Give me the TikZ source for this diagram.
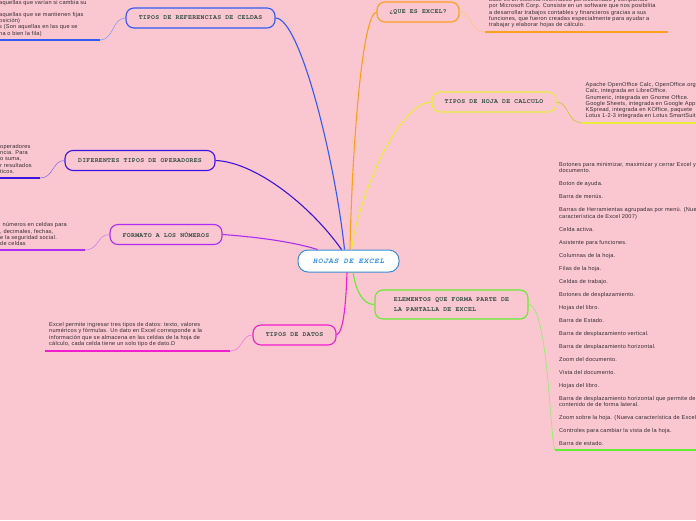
\documentclass[tikz,border=0pt]{standalone}
\usepackage{fontspec}
\setmainfont{Liberation Sans}[LetterSpace=4]
\newfontfamily\lblfont[LetterSpace=4]{texgyrecursor-bold.otf}
\newfontfamily\rootfont[LetterSpace=10]{texgyrecursor-bolditalic.otf}
\usepackage{xcolor}
\usetikzlibrary{calc}
\definecolor{bgpink}{RGB}{250,198,208}
\definecolor{lbltext}{RGB}{45,75,65}
\definecolor{bodytext}{RGB}{50,45,50}
\definecolor{cref}{RGB}{50,90,245}
\definecolor{cop}{RGB}{60,20,225}
\definecolor{cnum}{RGB}{175,45,240}
\definecolor{cdat}{RGB}{240,30,205}
\definecolor{cque}{RGB}{250,160,30}
\definecolor{choja}{RGB}{230,235,60}
\definecolor{celem}{RGB}{100,235,50}
\definecolor{croot}{RGB}{60,140,210}
\definecolor{croottext}{RGB}{40,140,230}
\tikzset{
  topic/.style  ={draw,line width=1.1pt,rounded corners=8pt,minimum height=20pt,inner xsep=10pt,
                  fill=bgpink,text=lbltext,font=\lblfont\fontsize{6.5}{9.7}\selectfont},
  rootbox/.style={draw=croot,line width=1pt,rounded corners=10pt,fill=white,minimum width=101pt,
                  minimum height=22pt,text=croottext,font=\rootfont\fontsize{7.5}{8}\selectfont},
  note/.style   ={inner sep=0pt,anchor=north west,align=left,text=bodytext,
                  font=\fontsize{5.6}{6.2}\selectfont},
  branch/.style ={line width=1.1pt},
  twig/.style   ={line width=0.6pt},
  rule/.style   ={line width=1.6pt},
}
\begin{document}
\begin{tikzpicture}[x=1pt,y=-1pt]
  \fill[bgpink] (0,0) rectangle (696,520);
  \useasboundingbox (0,0) rectangle (696,520);

  \node[rootbox] (root) at (348.5,261) {HOJAS DE EXCEL};
  \node[topic,draw=cref,minimum width=149pt] (refs) at (200.5,18) {TIPOS DE REFERENCIAS DE CELDAS};
  \node[topic,draw=cop,minimum width=150pt] (oper) at (140,160.5) {DIFERENTES TIPOS DE OPERADORES};
  \node[topic,draw=cnum,minimum width=112pt] (nums) at (166,234.5) {FORMATO A LOS NÚMEROS};
  \node[topic,draw=cdat,minimum width=83pt] (datos) at (294.5,335) {TIPOS DE DATOS};
  \node[topic,draw=cque,minimum width=82pt] (que) at (418,12) {¿QUE ES EXCEL?};
  \node[topic,draw=choja,minimum width=124pt] (hoja) at (494,102) {TIPOS DE HOJA DE CALCULO};
  \node[topic,draw=celem,minimum width=153pt,minimum height=29pt,align=left] (elem) at (451.5,304.5)
       {ELEMENTOS QUE FORMA PARTE DE\\LA PANTALLA DE EXCEL};

  \draw[branch,cref] (refs.east) .. controls (300,18) and (335,160) .. ([xshift=-4pt]root.north);
  \draw[branch,cop] (oper.east) .. controls (255,162) and (310,205) .. ([xshift=-7pt]root.north);
  \draw[branch,cnum] (nums.east) .. controls (270,238) and (300,244) .. ([xshift=-31pt]root.north);
  \draw[branch,cque] (que.west) .. controls (362,14) and (352,150) .. ([xshift=1.5pt]root.north);
  \draw[branch,choja] (hoja.west) .. controls (400,102) and (360,190) .. ([xshift=3pt]root.north);
  \draw[branch,cdat] ([xshift=-1.5pt]root.south) .. controls (346,300) and (344,332) .. (datos.east);
  \draw[branch,celem] ([xshift=4.5pt]root.south) .. controls (356,290) and (362,304.5) .. (elem.west);

  \node[note] (refnote) at (-1,-0.3) {aquellas que varían si cambia su\\[6.2pt]aquellas que se mantienen fijas\\
       osición)\\s (Son aquellas en las que se\\na o bien la fila)};
  \coordinate (refa) at (100,40);
  \coordinate (refb) at (0,40);
  \draw[twig,cref!60] (refs.west) .. controls (112,18) and (114,40) .. (refa);
  \draw[rule,cref] (refa) -- (refb);

  \node[note] (opernote) at (0,144.2) {operadores\\ncia. Para\\o suma,\\r resultados\\ticos.};
  \coordinate (opera) at (40,178);
  \coordinate (operb) at (0,178);
  \draw[twig,cop!60] (oper.west) .. controls (52,160.5) and (54,178) .. (opera);
  \draw[rule,cop] (opera) -- (operb);

  \node[note] (numsnote) at (0,222.5) {\hspace{2.5pt}números en celdas para\\, decimales, fechas,\\
       e la seguridad social.\\de celdas};
  \coordinate (numsa) at (85,250);
  \coordinate (numsb) at (0,250);
  \draw[twig,cnum!60] (nums.west) .. controls (97,234.5) and (99,250) .. (numsa);
  \draw[rule,cnum] (numsa) -- (numsb);

  \node[note] (datosnote) at (49,322.5) {Excel permite ingresar tres tipos de datos: texto, valores\\
       numéricos y fórmulas. Un dato en Excel corresponde a la\\
       información que se almacena en las celdas de la hoja de\\
       cálculo, cada celda tiene un solo tipo de dato.D};
  \coordinate (datosa) at (230,351);
  \coordinate (datosb) at (45,351);
  \draw[twig,cdat!60] (datos.west) .. controls (241,335) and (243,351) .. (datosa);
  \draw[rule,cdat] (datosa) -- (datosb);

  \node[note] (quenote) at (489,-2.7) {base es un sistema informático perfeccionado y compartido\\
       por Microsoft Corp. Consiste en un software que nos posibilita\\
       a desarrollar trabajos contables y financieros gracias a sus\\
       funciones, que fueron creadas especialmente para ayudar a\\
       trabajar y elaborar hojas de cálculo.};
  \coordinate (quea) at (485,32);
  \coordinate (queb) at (668,32);
  \draw[twig,cque!60] (que.east) .. controls (472,12) and (470,32) .. (quea);
  \draw[rule,cque] (quea) -- (queb);

  \node[note] (hojanote) at (585.5,82.5) {Apache OpenOffice Calc, OpenOffice.org\\
       Calc, integrada en LibreOffice.\\Gnumeric, integrada en Gnome Office.\\
       Google Sheets, integrada en Google Apps\\KSpread, integrada en KOffice, paquete\\
       Lotus 1-2-3 integrada en Lotus SmartSuite};
  \coordinate (hojaa) at (582,123);
  \coordinate (hojab) at (696,123);
  \draw[twig,choja!85!black] (hoja.east) .. controls (569,102) and (567,123) .. (hojaa);
  \draw[rule,choja] (hojaa) -- (hojab);

  \node[note] (elemnote) at (559,162.5) {Botones para minimizar, maximizar y cerrar Excel y el\\documento.\\[6.8pt]
       Boton de ayuda.\\[6.8pt]
       Barra de menús.\\[6.8pt]
       Barras de Herramientas agrupadas por menú. (Nueva\\característica de Excel 2007)\\[6.8pt]
       Celda activa.\\[6.8pt]
       Asistente para funciones.\\[6.8pt]
       Columnas de la hoja.\\[6.8pt]
       Filas de la hoja.\\[6.8pt]
       Celdas de trabajo.\\[6.8pt]
       Botones de desplazamiento.\\[6.8pt]
       Hojas del libro.\\[6.8pt]
       Barra de Estado.\\[6.8pt]
       Barra de desplazamiento vertical.\\[6.8pt]
       Barra de desplazamiento horizontal.\\[6.8pt]
       Zoom del documento.\\[6.8pt]
       Vista del documento.\\[6.8pt]
       Hojas del libro.\\[6.8pt]
       Barra de desplazamiento horizontal que permite desplazar el\\contenido de de forma lateral.\\[6.8pt]
       Zoom sobre la hoja. (Nueva característica de Excel 2007)\\[6.8pt]
       Controles para cambiar la vista de la hoja.\\[6.8pt]
       Barra de estado.};
  \coordinate (elema) at (555,450);
  \coordinate (elemb) at (696,450);
  \draw[twig,celem!75!white] (elem.east) .. controls (548,304.5) and (550,440) .. (elema);
  \draw[rule,celem] (elema) -- (elemb);
\end{tikzpicture}
\end{document}
